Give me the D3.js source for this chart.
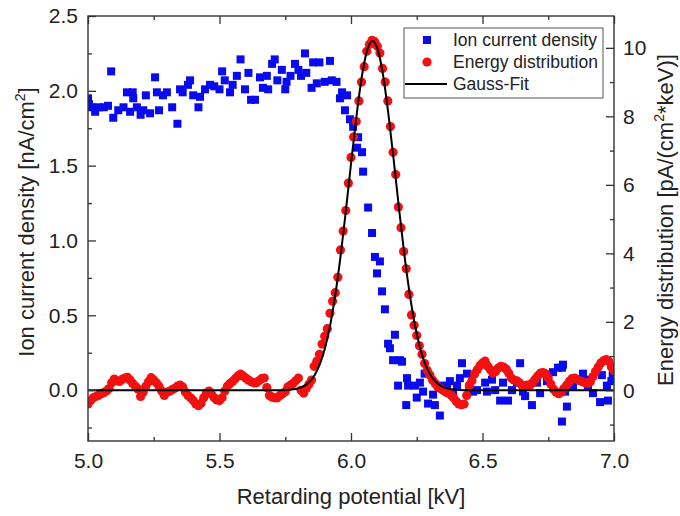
<!DOCTYPE html>
<html><head><meta charset="utf-8">
<script src="https://cdn.jsdelivr.net/npm/d3@7"></script>
<style>
body{margin:0;background:#fff}
svg{display:block}
text{font-family:"Liberation Sans",Arial,Helvetica,sans-serif;fill:#222}
</style>
</head><body>
<svg id="c" width="680" height="516"></svg>
<script>
// ---------- data ----------
const xTicks = [5.0, 5.5, 6.0, 6.5, 7.0];
const xMinorTicks = [5.25, 5.75, 6.25, 6.75];
const leftTicks = [0, 0.5, 1.0, 1.5, 2.0, 2.5];
const leftMinorTicks = [-0.25, 0.25, 0.75, 1.25, 1.75, 2.25];
const rightTicks = [0, 2, 4, 6, 8, 10];
const rightMinorTicks = [-1, 1, 3, 5, 7, 9];
const legendLabels = ["Ion current density", "Energy distribution", "Gauss-Fit"];

// Ion current density [nA/cm^2] vs retarding potential [kV] (left axis)
const ionCurrent = [
[5.000,1.95],[5.004,1.91],[5.015,1.89],[5.027,1.86],[5.040,1.89],[5.060,1.89],[5.076,1.90],[5.088,2.13],
[5.096,1.82],[5.115,1.87],[5.135,1.89],[5.148,1.99],[5.160,1.86],[5.170,1.99],[5.172,1.95],[5.186,1.89],
[5.200,1.84],[5.210,1.87],[5.220,1.97],[5.236,1.85],[5.255,2.09],[5.262,1.99],[5.270,1.87],[5.285,1.97],
[5.300,1.99],[5.320,1.89],[5.340,1.78],[5.350,2.01],[5.360,1.99],[5.380,2.04],[5.388,2.07],[5.400,1.97],
[5.420,1.89],[5.426,1.96],[5.445,2.01],[5.464,2.04],[5.480,2.03],[5.500,2.01],[5.510,2.13],[5.520,2.07],
[5.540,1.99],[5.550,2.04],[5.566,2.10],[5.580,2.21],[5.597,2.01],[5.610,2.12],[5.620,1.94],[5.635,1.94],
[5.654,2.09],[5.665,2.02],[5.680,2.10],[5.685,2.01],[5.700,2.18],[5.710,2.21],[5.720,2.07],[5.737,2.14],
[5.750,2.01],[5.755,2.06],[5.770,2.10],[5.787,2.18],[5.800,2.14],[5.810,2.10],[5.825,2.25],[5.830,2.12],
[5.850,2.02],[5.856,2.19],[5.870,2.05],[5.880,2.19],[5.900,2.06],[5.920,2.20],[5.927,2.07],[5.945,2.06],
[5.958,1.95],[5.966,1.99],[5.977,1.87],[5.985,1.97],[5.996,1.81],[6.008,1.76],[6.023,1.62],[6.027,1.69],
[6.042,1.59],[6.046,1.46],[6.065,1.22],[6.080,1.05],[6.091,0.89],[6.099,0.78],[6.110,0.86],[6.118,0.66],
[6.129,0.54],[6.141,0.31],[6.148,0.28],[6.160,0.20],[6.167,0.37],[6.179,0.03],[6.186,0.20],[6.194,0.19],
[6.213,0.08],[6.210,-0.10],[6.217,0.03],[6.243,0.03],[6.250,-0.05],[6.262,0.05],[6.274,-0.01],[6.280,0.11],
[6.293,-0.09],[6.312,-0.03],[6.319,-0.10],[6.338,-0.17],[6.338,0.03],[6.365,0.03],[6.376,0.06],[6.388,-0.02],
[6.403,0.03],[6.414,0.08],[6.422,0.18],[6.441,0.11],[6.450,0.02],[6.464,-0.01],[6.479,0.00],[6.510,0.05],
[6.517,-0.01],[6.536,0.07],[6.548,0.00],[6.567,-0.07],[6.578,0.05],[6.597,-0.07],[6.612,0.00],[6.631,0.05],
[6.643,0.18],[6.654,-0.01],[6.662,-0.04],[6.688,-0.10],[6.707,0.05],[6.719,-0.02],[6.745,0.06],[6.768,0.12],
[6.787,0.15],[6.802,0.15],[6.806,0.17],[6.814,-0.01],[6.821,-0.11],[6.802,-0.21],[6.844,0.03],[6.882,0.11],
[6.890,0.07],[6.901,0.03],[6.920,-0.02],[6.947,-0.08],[6.954,0.10],[6.973,0.03],[6.977,-0.07],[6.990,0.06],
[6.995,0.10]
];

// Energy distribution [pA/(cm^2*keV)] (right axis)
const energyDist = [
[5.00,-0.40],[5.01,-0.30],[5.02,-0.22],[5.03,-0.18],[5.04,-0.15],[5.05,-0.10],[5.06,-0.07],[5.07,-0.02],
[5.08,0.05],[5.09,0.22],[5.10,0.33],[5.11,0.28],[5.12,0.26],[5.13,0.32],[5.14,0.36],[5.15,0.38],
[5.16,0.30],[5.17,0.20],[5.18,0.12],[5.19,0.04],[5.20,-0.18],[5.21,-0.05],[5.22,0.12],[5.23,0.25],
[5.24,0.37],[5.25,0.30],[5.26,0.22],[5.27,0.12],[5.28,-0.02],[5.29,-0.15],[5.30,-0.06],[5.31,-0.03],
[5.32,0.02],[5.33,0.06],[5.34,0.12],[5.35,0.15],[5.36,0.10],[5.37,-0.05],[5.38,-0.15],[5.39,-0.22],
[5.40,-0.30],[5.41,-0.40],[5.42,-0.45],[5.43,-0.38],[5.44,-0.22],[5.45,-0.08],[5.46,-0.02],[5.47,-0.12],
[5.48,-0.22],[5.49,-0.28],[5.50,-0.30],[5.51,-0.22],[5.52,-0.02],[5.53,0.12],[5.54,0.20],[5.55,0.26],
[5.56,0.34],[5.57,0.42],[5.58,0.47],[5.59,0.42],[5.60,0.36],[5.61,0.30],[5.62,0.25],[5.63,0.22],
[5.64,0.22],[5.65,0.28],[5.66,0.34],[5.67,0.36],[5.68,0.08],[5.69,-0.15],[5.70,-0.20],[5.71,-0.22],
[5.72,-0.22],[5.73,-0.15],[5.74,-0.10],[5.75,-0.04],[5.76,0.10],[5.77,0.15],[5.78,0.20],[5.79,0.28],
[5.80,0.36],[5.81,0.00],[5.82,-0.08],[5.83,0.05],[5.84,0.18],[5.85,0.30],[5.86,0.70],[5.87,0.85],
[5.88,1.05],[5.89,1.35],[5.90,1.58],[5.91,1.80],[5.92,2.25],[5.93,2.60],[5.94,2.85],[5.95,3.30],
[5.96,4.10],[5.97,4.65],[5.98,5.25],[5.99,6.05],[6.00,6.80],[6.01,7.40],[6.02,7.85],[6.03,8.45],
[6.04,9.00],[6.05,9.45],[6.06,9.90],[6.07,10.10],[6.08,10.22],[6.09,10.18],[6.10,10.05],[6.11,9.85],
[6.12,9.40],[6.13,9.00],[6.14,8.45],[6.15,7.70],[6.16,6.95],[6.17,6.30],[6.18,5.35],[6.19,4.75],
[6.20,4.05],[6.21,3.55],[6.22,2.80],[6.23,2.20],[6.24,1.90],[6.25,1.60],[6.26,1.30],[6.27,1.05],
[6.28,0.78],[6.29,0.58],[6.30,0.45],[6.31,0.30],[6.32,0.20],[6.33,0.10],[6.34,0.05],[6.35,0.00],
[6.36,-0.05],[6.37,-0.08],[6.38,-0.14],[6.39,-0.22],[6.40,-0.32],[6.41,-0.40],[6.42,-0.42],[6.43,-0.40],
[6.44,-0.15],[6.45,0.15],[6.46,0.28],[6.47,0.48],[6.48,0.60],[6.49,0.72],[6.50,0.80],[6.51,0.85],
[6.52,0.70],[6.53,0.60],[6.54,0.50],[6.55,0.55],[6.56,0.65],[6.57,0.70],[6.58,0.68],[6.59,0.62],
[6.60,0.50],[6.61,0.35],[6.62,0.30],[6.63,0.28],[6.64,0.22],[6.65,0.15],[6.66,0.12],[6.67,0.15],
[6.68,0.15],[6.69,0.22],[6.70,0.32],[6.71,0.42],[6.72,0.50],[6.73,0.52],[6.74,0.48],[6.75,0.36],
[6.76,0.18],[6.77,0.03],[6.78,-0.06],[6.79,-0.10],[6.80,-0.05],[6.81,0.05],[6.82,0.15],[6.83,0.26],
[6.84,0.34],[6.85,0.36],[6.86,0.32],[6.87,0.28],[6.88,0.25],[6.89,0.22],[6.90,0.20],[6.91,0.25],
[6.92,0.40],[6.93,0.55],[6.94,0.68],[6.95,0.80],[6.96,0.86],[6.97,0.90],[6.98,0.85],[6.99,0.68],
[7.00,0.58]
];

// Gauss-Fit curve points (right axis)
const gaussFit = [
[5.000,0],[5.700,0],[5.732,0.004],[5.762,0.014],[5.782,0.03],[5.802,0.065],[5.822,0.13],[5.842,0.25],
[5.862,0.45],[5.882,0.77],[5.902,1.26],[5.922,1.95],[5.942,2.88],[5.962,4.02],[5.982,5.35],[6.002,6.75],
[6.022,8.08],[6.042,9.20],[6.062,9.94],[6.082,10.20],[6.102,9.94],[6.122,9.20],[6.142,8.08],[6.162,6.75],
[6.182,5.35],[6.202,4.02],[6.222,2.88],[6.242,1.95],[6.262,1.26],[6.282,0.77],[6.302,0.45],[6.322,0.25],
[6.342,0.13],[6.362,0.065],[6.382,0.03],[6.402,0.014],[6.432,0.004],[6.460,0],[7.000,0]
];

// ---------- chart ----------
const svg = d3.select("#c");
const M = {l: 88, r: 614, t: 16, b: 441};
const x = d3.scaleLinear().domain([5, 7]).range([M.l, M.r]);
const yL = d3.scaleLinear().domain([-0.34, 2.5]).range([M.b, M.t]);
const yR = d3.scaleLinear().domain([-1.48, 10.93]).range([M.b, M.t]);
const BLUE = "#0a0aee", RED = "#f21010", AX = "#333";

svg.append("defs").append("clipPath").attr("id", "clip")
  .append("rect").attr("x", M.l).attr("y", M.t).attr("width", M.r - M.l).attr("height", M.b - M.t);

const plot = svg.append("g").attr("clip-path", "url(#clip)");

plot.append("g").selectAll("rect").data(ionCurrent).join("rect")
  .attr("x", d => x(d[0]) - 4).attr("y", d => yL(d[1]) - 4)
  .attr("width", 8).attr("height", 8).attr("fill", BLUE);

plot.append("g").selectAll("circle").data(energyDist).join("circle")
  .attr("cx", d => x(d[0])).attr("cy", d => yR(d[1])).attr("r", 4.6).attr("fill", RED);

plot.append("path").datum(gaussFit)
  .attr("d", d3.line().x(d => x(d[0])).y(d => yR(d[1])).curve(d3.curveMonotoneX))
  .attr("fill", "none").attr("stroke", "#000").attr("stroke-width", 2);

function styleAxis(g, fs) {
  g.attr("font-family", null).attr("font-size", null);
  g.select(".domain").remove();
  g.selectAll(".tick line").attr("stroke", AX).attr("stroke-width", 1.3);
  g.selectAll(".tick text").attr("font-size", fs).attr("fill", "#222");
}

// bottom
svg.append("g").attr("transform", `translate(0,${M.b})`)
  .call(d3.axisBottom(x).tickValues(xTicks).tickFormat(d3.format(".1f")).tickSizeInner(-8).tickSizeOuter(0).tickPadding(12))
  .call(g => styleAxis(g, 21));
svg.append("g").attr("transform", `translate(0,${M.b})`)
  .call(d3.axisBottom(x).tickValues(xMinorTicks).tickFormat("").tickSizeInner(-4).tickSizeOuter(0))
  .call(g => styleAxis(g, 21));
// top
svg.append("g").attr("transform", `translate(0,${M.t})`)
  .call(d3.axisTop(x).tickValues(xTicks).tickFormat("").tickSizeInner(-8).tickSizeOuter(0))
  .call(g => styleAxis(g, 21));
svg.append("g").attr("transform", `translate(0,${M.t})`)
  .call(d3.axisTop(x).tickValues(xMinorTicks).tickFormat("").tickSizeInner(-4).tickSizeOuter(0))
  .call(g => styleAxis(g, 21));
// left
svg.append("g").attr("transform", `translate(${M.l},0)`)
  .call(d3.axisLeft(yL).tickValues(leftTicks).tickFormat(d3.format(".1f")).tickSizeInner(-8).tickSizeOuter(0).tickPadding(10))
  .call(g => styleAxis(g, 21));
svg.append("g").attr("transform", `translate(${M.l},0)`)
  .call(d3.axisLeft(yL).tickValues(leftMinorTicks).tickFormat("").tickSizeInner(-4).tickSizeOuter(0))
  .call(g => styleAxis(g, 21));
// right
svg.append("g").attr("transform", `translate(${M.r},0)`)
  .call(d3.axisRight(yR).tickValues(rightTicks).tickFormat(d3.format("d")).tickSizeInner(-8).tickSizeOuter(0).tickPadding(9))
  .call(g => styleAxis(g, 21));
svg.append("g").attr("transform", `translate(${M.r},0)`)
  .call(d3.axisRight(yR).tickValues(rightMinorTicks).tickFormat("").tickSizeInner(-4).tickSizeOuter(0))
  .call(g => styleAxis(g, 21));

// frame
svg.append("rect").attr("x", M.l).attr("y", M.t).attr("width", M.r - M.l).attr("height", M.b - M.t)
  .attr("fill", "none").attr("stroke", AX).attr("stroke-width", 1.4);

// axis titles
svg.append("text").attr("x", (M.l + M.r) / 2).attr("y", 504).attr("text-anchor", "middle")
  .attr("font-size", 22).text("Retarding potential [kV]");

function rotTitle(cx, cy, parts) {
  const t = svg.append("text").attr("transform", `translate(${cx},${cy}) rotate(-90)`)
    .attr("text-anchor", "middle").attr("font-size", 22);
  t.append("tspan").text(parts[0]);
  t.append("tspan").attr("font-size", 14).attr("dy", -9).text("2");
  t.append("tspan").attr("dy", 9).text(parts[1]);
}
rotTitle(34, 222, ["Ion current density [nA/cm", "]"]);
rotTitle(673, 220, ["Energy distribution [pA/(cm", "*keV)]"]);

// legend
const lg = svg.append("g");
lg.append("rect").attr("x", 404).attr("y", 28).attr("width", 199).attr("height", 70)
  .attr("fill", "#fff").attr("stroke", "#555").attr("stroke-width", 1);
const ly = [40, 62, 84];
lg.append("rect").attr("x", 427 - 4).attr("y", ly[0] - 4).attr("width", 8).attr("height", 8).attr("fill", BLUE);
lg.append("circle").attr("cx", 427).attr("cy", ly[1]).attr("r", 4.6).attr("fill", RED);
lg.append("line").attr("x1", 405).attr("x2", 447).attr("y1", ly[2]).attr("y2", ly[2]).attr("stroke", "#000").attr("stroke-width", 2);
lg.selectAll("text.lab").data(legendLabels).join("text").attr("class", "lab")
  .attr("x", 453).attr("y", (d, i) => ly[i]).attr("dy", "0.35em").attr("font-size", 17.5).text(d => d);
</script>
</body></html>
